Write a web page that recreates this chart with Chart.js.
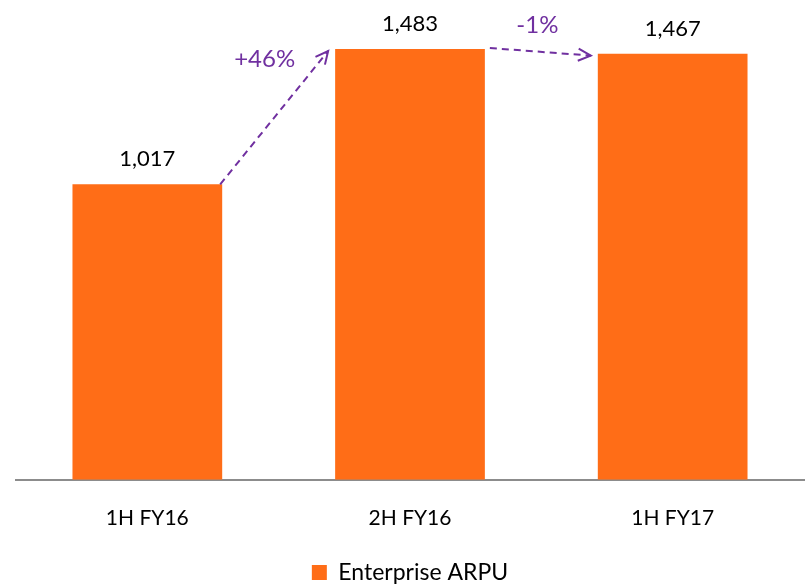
<!DOCTYPE html>
<html>
<head>
<meta charset="utf-8">
<script src="https://cdn.jsdelivr.net/npm/chart.js@4"></script>
<style>
  html, body { margin: 0; padding: 0; background: #fff; }
  #wrap { width: 806px; height: 586px; position: relative; }
</style>
</head>
<body>
<div id="wrap"><canvas id="chart"></canvas></div>
<script>
// 資料
const categories = ['1H FY16', '2H FY16', '1H FY17'];
const arpuValues = [1017, 1483, 1467];
const changeLabels = ['+46%', '-1%'];
const seriesName = 'Enterprise ARPU';

const barColor = '#FF6D17';
const purple = '#7030A0';
const fontFamily = 'Lato, "Open Sans", sans-serif';

// 數值標籤
const valueLabels = {
  id: 'valueLabels',
  afterDatasetsDraw(chart) {
    const ctx = chart.ctx;
    const meta = chart.getDatasetMeta(0);
    ctx.save();
    ctx.fillStyle = '#000';
    ctx.font = '22px ' + fontFamily;
    ctx.textAlign = 'center';
    ctx.textBaseline = 'middle';
    meta.data.forEach((bar, i) => {
      ctx.fillText(arpuValues[i].toLocaleString('en-US'), bar.x, bar.y - 25);
    });
    ctx.restore();
  }
};

// 虛線箭頭 + 變化百分比
function drawArrow(ctx, x1, y1, x2, y2) {
  ctx.setLineDash([7, 5]);
  ctx.beginPath();
  ctx.moveTo(x1, y1);
  ctx.lineTo(x2, y2);
  ctx.stroke();
  ctx.setLineDash([]);
  const ang = Math.atan2(y2 - y1, x2 - x1);
  const len = 14;
  ctx.beginPath();
  ctx.moveTo(x2 - len * Math.cos(ang - 0.45), y2 - len * Math.sin(ang - 0.45));
  ctx.lineTo(x2, y2);
  ctx.lineTo(x2 - len * Math.cos(ang + 0.45), y2 - len * Math.sin(ang + 0.45));
  ctx.stroke();
}

const changeArrows = {
  id: 'changeArrows',
  afterDatasetsDraw(chart) {
    const ctx = chart.ctx;
    const bars = chart.getDatasetMeta(0).data;
    ctx.save();
    ctx.strokeStyle = purple;
    ctx.lineWidth = 2;
    const a = bars[0], b = bars[1], c = bars[2];
    // 1H FY16 -> 2H FY16
    drawArrow(ctx, a.x + a.width / 2 - 2, a.y, b.x - b.width / 2 - 7, b.y + 2);
    // 2H FY16 -> 1H FY17
    drawArrow(ctx, b.x + b.width / 2 + 5, b.y - 1, c.x - c.width / 2 - 7, c.y + 2);

    ctx.fillStyle = purple;
    ctx.font = '24px ' + fontFamily;
    ctx.textAlign = 'center';
    ctx.textBaseline = 'middle';
    ctx.fillText(changeLabels[0], (a.x + b.x) / 2 - 14, b.y + 10);
    ctx.fillText(changeLabels[1], (b.x + c.x) / 2 - 4, b.y - 24);
    ctx.restore();
  }
};

new Chart(document.getElementById('chart'), {
  type: 'bar',
  data: {
    labels: categories,
    datasets: [{
      label: seriesName,
      data: arpuValues,
      backgroundColor: barColor,
      categoryPercentage: 1,
      barPercentage: 0.57
    }]
  },
  options: {
    responsive: true,
    maintainAspectRatio: false,
    animation: false,
    layout: { padding: { left: 16, right: 2, top: 15, bottom: -8 } },
    scales: {
      y: {
        display: false,
        min: 0,
        max: 1600
      },
      x: {
        grid: { display: false, drawTicks: false },
        border: { display: true, color: '#8c8c8c', width: 2 },
        ticks: { color: '#000', padding: 26, font: { family: fontFamily, size: 21 } }
      }
    },
    plugins: {
      legend: {
        position: 'bottom',
        labels: {
          color: '#000',
          boxWidth: 15,
          boxHeight: 15,
          padding: 4,
          font: { family: fontFamily, size: 23 }
        }
      },
      tooltip: { enabled: false }
    }
  },
  plugins: [valueLabels, changeArrows]
});
</script>
</body>
</html>
